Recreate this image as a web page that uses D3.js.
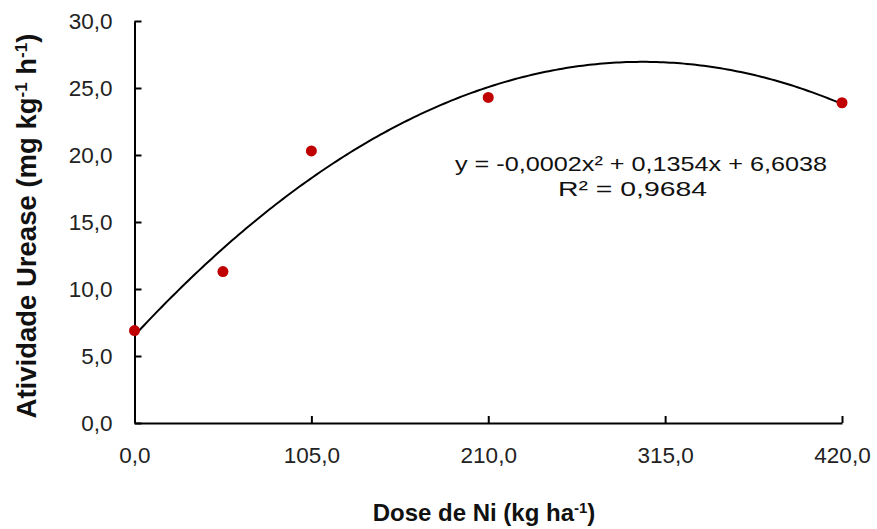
<!DOCTYPE html>
<html><head><meta charset="utf-8">
<script src="https://cdn.jsdelivr.net/npm/d3@7"></script>
<style>body{margin:0;background:#fff}svg{display:block;font-family:"Liberation Sans",Arial,sans-serif}</style>
</head><body><svg id="c" width="877" height="529"></svg>
<script>
const doses = [0, 52.5, 105, 210, 420];
const urease = [6.9, 11.3, 20.3, 24.3, 23.9];
const xTicks = [0, 105, 210, 315, 420];
const yTicks = [0, 5, 10, 15, 20, 25, 30];
const equationLines = ["y = -0,0002x² + 0,1354x + 6,6038", "R² = 0,9684"];

const svg = d3.select("#c");
const x = d3.scaleLinear().domain([0, 420]).range([134.5, 842]);
const y = d3.scaleLinear().domain([0, 30]).range([423, 21]);
const fmt = d => d3.format(".1f")(d).replace(".", ",");

// least-squares quadratic fit
function quadFit(xs, ys) {
  let S = Array.from({length:5},(_,k)=>d3.sum(xs,v=>Math.pow(v,k)));
  let T = Array.from({length:3},(_,k)=>d3.sum(xs,(v,i)=>Math.pow(v,k)*ys[i]));
  let A = [[S[0],S[1],S[2],T[0]],[S[1],S[2],S[3],T[1]],[S[2],S[3],S[4],T[2]]];
  for (let i=0;i<3;i++){ for (let j=i+1;j<3;j++){ const f=A[j][i]/A[i][i]; for(let k=i;k<4;k++) A[j][k]-=f*A[i][k]; } }
  const c=[0,0,0];
  for (let i=2;i>=0;i--){ let s=A[i][3]; for(let k=i+1;k<3;k++) s-=A[i][k]*c[k]; c[i]=s/A[i][i]; }
  return c;
}
const coef = quadFit(doses, urease);
const curveXs = d3.range(0, 420.01, 2);
const line = d3.line().x(d => x(d)).y(d => y(coef[0] + coef[1]*d + coef[2]*d*d));

// axes
const gy = svg.append("g").attr("transform", `translate(${x(0)},0)`)
  .call(d3.axisLeft(y).tickValues(yTicks).tickFormat(fmt).tickSizeInner(-7).tickSizeOuter(0).tickPadding(22));
const gx = svg.append("g").attr("transform", `translate(0,${y(0)})`)
  .call(d3.axisBottom(x).tickValues(xTicks).tickFormat(fmt).tickSizeInner(-7).tickSizeOuter(0).tickPadding(24));
[gy, gx].forEach(g => {
  g.select(".domain").attr("stroke", "#000").attr("stroke-width", 2);
  g.selectAll(".tick line").attr("stroke", "#000").attr("stroke-width", 2);
  g.selectAll(".tick text").attr("fill", "#222").style("font-size", "22.5px").style("font-family", '"Liberation Sans",Arial,sans-serif');
});
gx.selectAll(".tick text").attr("dy", "0.71em");

// curve
svg.append("path").datum(curveXs).attr("d", line).attr("fill", "none").attr("stroke", "#000").attr("stroke-width", 2);

// points
svg.selectAll("circle.pt").data(doses).enter().append("circle").attr("class","pt")
  .attr("cx", (d) => x(d)).attr("cy", (d,i) => y(urease[i])).attr("r", 5.5).attr("fill", "#C00000");

// equation
const eqX = [641, 632.5];
const eqW = [372, 149];
equationLines.forEach((t, i) => {
  svg.append("text").attr("x", eqX[i]).attr("y", 171 + i*24.5).attr("text-anchor","middle")
    .attr("font-size", 21).attr("fill","#111")
    .attr("textLength", eqW[i]).attr("lengthAdjust", "spacingAndGlyphs").text(t);
});

// axis titles
svg.append("text").attr("x", 484).attr("y", 521).attr("text-anchor","middle")
  .attr("font-size", 24).attr("font-weight","bold").attr("fill","#111")
  .html('Dose de Ni (kg ha<tspan dy="-8" font-size="15">-1</tspan><tspan dy="8">)</tspan>');
svg.append("text").attr("transform","translate(36,226) rotate(-90)").attr("text-anchor","middle")
  .attr("font-size", 27.5).attr("font-weight","bold").attr("fill","#111")
  .html('Atividade Urease (mg kg<tspan dy="-9" font-size="17">-1</tspan><tspan dy="9"> h</tspan><tspan dy="-9" font-size="17">-1</tspan><tspan dy="9">)</tspan>');
</script></body></html>
